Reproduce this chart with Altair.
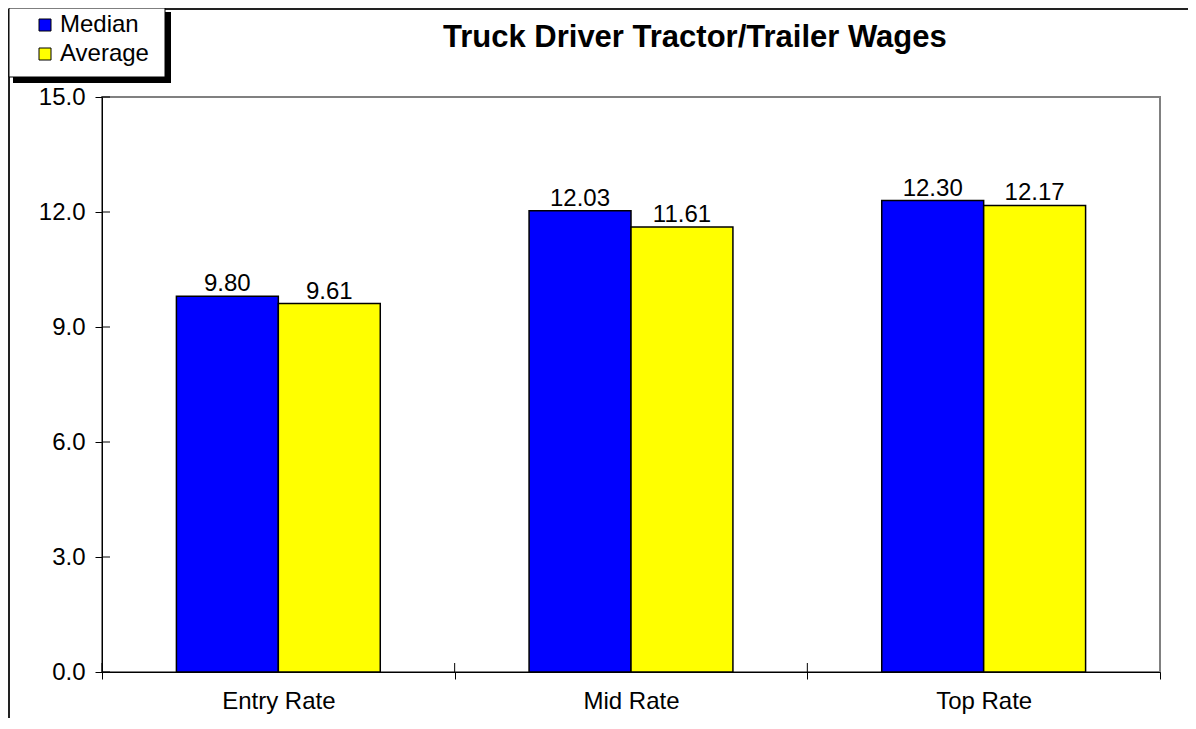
import altair as alt
import pandas as pd

categories = ["Entry Rate", "Mid Rate", "Top Rate"]
series_names = ["Median", "Average"]
median_values = [9.80, 12.03, 12.30]
average_values = [9.61, 11.61, 12.17]
y_ticks = [0, 3, 6, 9, 12, 15]
title_text = "Truck Driver Tractor/Trailer Wages"

rows = []
for c, m, a in zip(categories, median_values, average_values):
    rows.append({"category": c, "series": "Median", "value": m})
    rows.append({"category": c, "series": "Average", "value": a})
df = pd.DataFrame(rows)
tick_df = pd.DataFrame({"tick": y_ticks})
cat_df = pd.DataFrame({"category": categories})

FONT = "Liberation Sans"
FS = 24
W, H = 1058, 575

x_enc = alt.X(
    "category:N",
    sort=categories,
    scale=alt.Scale(paddingInner=0, paddingOuter=0),
    axis=alt.Axis(
        title=None, labelAngle=0, tickBand="extent", tickSize=7,
        tickColor="black", domainColor="black", domainWidth=1,
        labelFontSize=FS, labelFont=FONT, labelColor="black", labelPadding=10,
    ),
)
xoff_enc = alt.XOffset(
    "series:N", sort=series_names,
    scale=alt.Scale(domain=series_names, paddingInner=0, paddingOuter=0.73),
)
y_enc = alt.Y(
    "value:Q",
    scale=alt.Scale(domain=[0, 15], nice=False),
    axis=alt.Axis(
        title=None, values=y_ticks, format=".1f", grid=False, tickSize=7,
        tickColor="black", domainColor="black", domainWidth=1,
        labelFontSize=FS, labelFont=FONT, labelColor="black", labelPadding=10,
    ),
)

bars = alt.Chart(df).mark_bar(stroke="black", strokeWidth=1.5, opacity=1).encode(
    x=x_enc,
    xOffset=xoff_enc,
    y=y_enc,
    color=alt.Color(
        "series:N",
        scale=alt.Scale(domain=series_names, range=["#0000FF", "#FFFF00"]),
        legend=alt.Legend(
            orient="none", legendX=-69, legendY=-84, title=None,
            symbolType="square", symbolSize=144, symbolStrokeColor="black",
            symbolStrokeWidth=1, symbolOpacity=1, labelFontSize=FS,
            labelFont=FONT, labelColor="black", rowPadding=5, padding=0,
            labelOffset=3,
        ),
    ),
)

labels = alt.Chart(df).mark_text(
    dy=-5, fontSize=FS, font=FONT, color="black", baseline="alphabetic"
).encode(
    x=alt.X("category:N", sort=categories),
    xOffset=alt.XOffset("series:N", sort=series_names),
    y="value:Q",
    text=alt.Text("value:Q", format=".2f"),
)

# inward halves of the crossing tick marks
y_inner_ticks = alt.Chart(tick_df).mark_rule(color="black", strokeWidth=1).encode(
    y="tick:Q", x=alt.value(0), x2=alt.value(8)
)
x_inner_ticks = alt.Chart(cat_df).mark_rule(color="black", strokeWidth=1).encode(
    x=alt.X("category:N", sort=categories, bandPosition=0),
    y=alt.value(H - 9), y2=alt.value(H),
)

deco = pd.DataFrame({"k": [0]})
frame_top = alt.Chart(deco).mark_rule(color="#222222", strokeWidth=2).encode(
    x=alt.value(-93), x2=alt.value(1090), y=alt.value(-88)
)
frame_left = alt.Chart(deco).mark_rule(color="#222222", strokeWidth=2).encode(
    x=alt.value(-93), y=alt.value(-88), y2=alt.value(630)
)
legend_shadow = alt.Chart(deco).mark_rect(color="black").encode(
    x=alt.value(-89), x2=alt.value(69), y=alt.value(-85), y2=alt.value(-14)
)
legend_box = alt.Chart(deco).mark_rect(fill="white", stroke="black", strokeWidth=1).encode(
    x=alt.value(-93), x2=alt.value(63), y=alt.value(-89), y2=alt.value(-20)
)
title = alt.Chart(deco).mark_text(
    text=title_text, fontSize=31, font=FONT, fontWeight="bold", color="black",
    align="left", baseline="alphabetic",
).encode(x=alt.value(341), y=alt.value(-50))

chart = alt.layer(
    frame_top, frame_left, legend_shadow, legend_box, title,
    bars, labels, y_inner_ticks, x_inner_ticks,
).properties(
    width=W, height=H,
    autosize=alt.AutoSizeParams(type="none"),
    padding={"left": 94, "top": 89, "right": 28, "bottom": 46},
).configure_view(stroke="#808080", strokeWidth=2)

chart.save("out.html", embed_options={"renderer": "svg", "actions": False})
